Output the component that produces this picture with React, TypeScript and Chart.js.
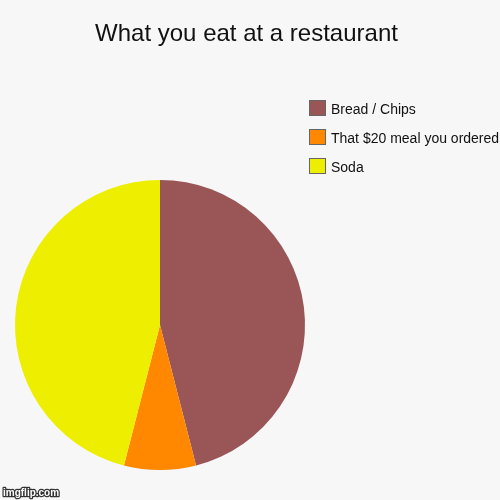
import React, { useEffect, useRef } from "react";
import { Chart, registerables } from "chart.js";

Chart.register(...registerables);

const chartTitle = "What you eat at a restaurant";
const categories = ["Bread / Chips", "That $20 meal you ordered", "Soda"];
const values = [46, 8, 46];
const colors = ["#9a5656", "#ff8800", "#eeee00"];
const watermark = "imgflip.com";

const overlayPlugin = {
  id: "overlay",
  beforeDraw(chart: any) {
    const ctx = chart.ctx;
    ctx.save();
    ctx.fillStyle = "#f7f7f7";
    ctx.fillRect(0, 0, chart.width, chart.height);
    ctx.restore();
  },
  afterDraw(chart: any) {
    const ctx = chart.ctx;
    ctx.save();
    ctx.fillStyle = "#111111";
    ctx.font = "24px 'Liberation Sans', Arial, sans-serif";
    ctx.textAlign = "center";
    ctx.textBaseline = "alphabetic";
    ctx.fillText(chartTitle, 246.5, 41);

    ctx.font = "14px 'Liberation Sans', Arial, sans-serif";
    ctx.textAlign = "left";
    categories.forEach((label, i) => {
      const y = 100 + i * 29;
      ctx.fillStyle = colors[i];
      ctx.fillRect(309.5, y + 0.5, 16, 15);
      ctx.strokeStyle = "#666666";
      ctx.lineWidth = 1;
      ctx.strokeRect(309.5, y + 0.5, 16, 15);
      ctx.fillStyle = "#111111";
      ctx.fillText(label, 331, y + 14.3);
    });

    ctx.font = "bold 10px 'Liberation Sans', Arial, sans-serif";
    ctx.lineWidth = 2.5;
    ctx.lineJoin = "round";
    ctx.strokeStyle = "#333333";
    ctx.strokeText(watermark, 3, 496);
    ctx.fillStyle = "#ffffff";
    ctx.fillText(watermark, 3, 496);
    ctx.restore();
  },
};

export default function App() {
  const ref = useRef<HTMLCanvasElement>(null);
  useEffect(() => {
    document.body.style.margin = "0";
    const chart = new Chart(ref.current!, {
      type: "pie",
      data: {
        labels: categories,
        datasets: [
          {
            data: values,
            backgroundColor: colors,
            borderWidth: 0,
          },
        ],
      },
      options: {
        animation: false,
        responsive: false,
        layout: { padding: { left: 15, top: 180, right: 195, bottom: 30 } },
        plugins: {
          legend: { display: false },
          title: { display: false },
          tooltip: { enabled: false },
        },
      },
      plugins: [overlayPlugin],
    });
    return () => chart.destroy();
  }, []);
  return (
    <div style={{ width: 500, height: 500, background: "#f7f7f7" }}>
      <canvas ref={ref} width={500} height={500} style={{ display: "block" }} />
    </div>
  );
}
